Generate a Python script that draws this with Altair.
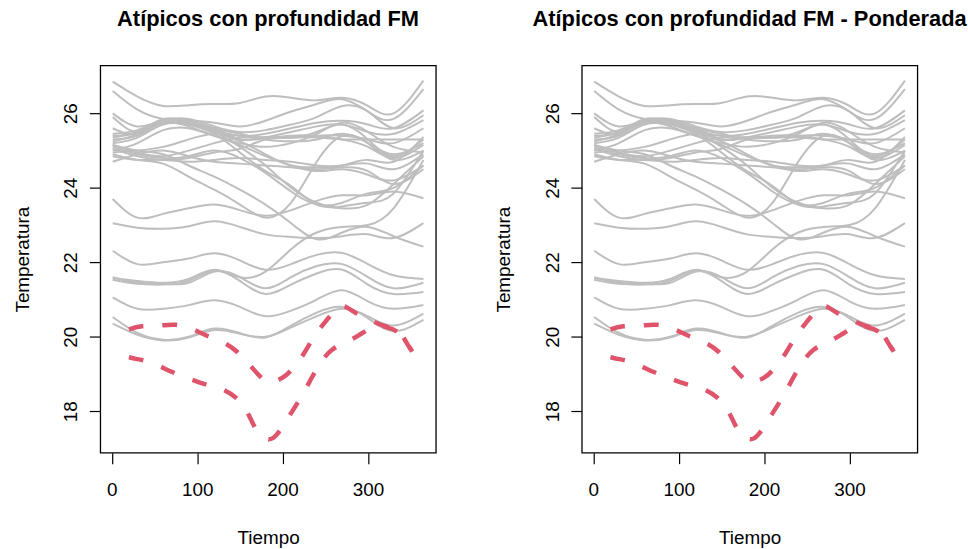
import altair as alt
import pandas as pd

# ---------------- data ----------------
tiempo_nodos = [1, 30, 60, 90, 120, 150, 180, 210, 240, 270, 300, 330, 365]

g01 = [26.85, 26.45, 26.20, 26.22, 26.25, 26.28, 26.45, 26.42, 26.35, 26.42, 26.20, 26.00, 26.88]
g02 = [26.60, 26.10, 25.85, 25.80, 25.75, 25.65, 25.80, 26.05, 26.25, 26.38, 26.05, 25.85, 26.65]
g03 = [26.00, 25.65, 25.80, 25.75, 25.55, 25.40, 25.45, 25.60, 25.75, 25.80, 25.70, 25.60, 26.08]
g04 = [25.90, 25.50, 25.75, 25.70, 25.60, 25.30, 25.35, 25.50, 25.65, 25.70, 25.50, 25.45, 25.82]
g05 = [25.60, 25.45, 25.80, 25.80, 25.55, 25.30, 25.35, 25.35, 25.40, 25.40, 25.30, 25.20, 25.60]
g06 = [25.40, 25.50, 25.85, 25.75, 25.50, 25.25, 24.90, 24.60, 24.55, 24.60, 24.75, 24.70, 25.37]
g07 = [25.30, 25.40, 25.75, 25.70, 25.45, 24.95, 24.45, 24.05, 23.55, 23.50, 23.60, 23.85, 25.00]
g08 = [25.20, 25.35, 25.70, 25.70, 25.50, 25.10, 24.60, 24.00, 23.60, 23.45, 23.55, 24.10, 24.85]
g09 = [25.15, 24.95, 24.85, 25.00, 25.20, 25.35, 25.35, 25.40, 25.40, 25.30, 25.10, 24.80, 25.15]
g10 = [25.05, 24.85, 24.75, 24.80, 24.95, 25.05, 25.30, 25.35, 25.50, 25.70, 25.30, 24.85, 25.30]
g11 = [24.95, 25.00, 25.10, 25.30, 25.45, 25.40, 25.35, 25.35, 25.35, 25.30, 25.30, 25.30, 25.30]
g12 = [24.85, 24.75, 24.75, 24.70, 24.75, 24.80, 24.75, 24.70, 24.60, 24.60, 24.65, 24.50, 24.90]
g13 = [24.70, 24.90, 25.00, 24.85, 24.70, 24.65, 24.60, 24.55, 24.50, 24.55, 24.45, 24.10, 24.50]
g14 = [25.10, 24.90, 24.80, 24.85, 25.00, 24.80, 24.40, 23.90, 23.55, 23.60, 23.85, 24.00, 24.60]
g15 = [25.25, 25.45, 25.80, 25.80, 25.60, 25.45, 25.30, 25.25, 25.30, 25.45, 25.20, 24.90, 25.20]
g16 = [25.35, 25.50, 25.75, 25.65, 25.40, 25.20, 25.10, 25.20, 25.45, 25.75, 25.50, 25.10, 24.95]
g17 = [25.15, 25.00, 24.90, 24.60, 24.30, 23.95, 23.55, 23.05, 22.62, 22.80, 22.95, 22.70, 22.42]
g18 = [24.90, 24.75, 24.65, 24.30, 23.95, 23.55, 23.20, 23.60, 24.70, 25.40, 25.20, 24.75, 25.00]
g19 = [23.70, 23.20, 23.30, 23.45, 23.55, 23.40, 23.25, 23.40, 23.65, 23.80, 23.80, 23.90, 23.72]
g20 = [23.05, 22.93, 22.90, 22.97, 23.10, 22.95, 22.75, 22.68, 22.65, 22.70, 22.75, 22.65, 23.05]
g21 = [21.58, 21.50, 21.45, 21.55, 21.80, 21.60, 21.75, 22.35, 22.80, 22.95, 23.00, 23.45, 24.75]
g22 = [22.31, 21.95, 22.00, 22.10, 22.24, 22.05, 21.80, 21.95, 22.20, 22.25, 21.95, 21.65, 21.55]
g23 = [21.60, 21.45, 21.42, 21.45, 21.75, 21.60, 21.30, 21.60, 21.90, 21.95, 21.60, 21.30, 21.45]
g24 = [21.53, 21.42, 21.40, 21.50, 21.78, 21.50, 21.15, 21.40, 21.70, 21.80, 21.40, 21.15, 21.20]
g25 = [21.06, 20.75, 20.75, 20.85, 20.98, 20.80, 20.55, 20.70, 21.00, 21.25, 20.95, 20.75, 20.85]
g26 = [20.53, 20.10, 19.92, 20.00, 20.22, 20.10, 19.98, 20.30, 20.65, 20.80, 20.50, 20.15, 20.45]
g27 = [20.35, 20.05, 19.90, 19.98, 20.18, 20.08, 20.00, 20.25, 20.55, 20.75, 20.55, 20.30, 20.62]
g28 = [25.00, 25.20, 25.55, 25.60, 25.40, 25.15, 24.85, 24.60, 24.45, 24.50, 24.35, 24.20, 24.60]
g29 = [25.45, 25.55, 25.80, 25.85, 25.65, 25.50, 25.55, 25.70, 25.90, 26.20, 26.05, 25.60, 25.95]

grises = [g01, g02, g03, g04, g05, g06, g07, g08, g09, g10, g11, g12, g13, g14, g15,
          g16, g17, g18, g19, g20, g21, g22, g23, g24, g25, g26, g27, g28, g29]

# atypical curves (red, dashed)
rojo1_t = [20, 35, 55, 75, 95, 110, 130, 147, 165, 178, 188, 200, 212, 225, 237, 250,
           262, 272, 285, 300, 318, 335, 345, 352]
rojo1_v = [20.20, 20.28, 20.30, 20.32, 20.20, 20.04, 19.85, 19.59, 19.15, 18.85, 18.80, 18.90,
           19.15, 19.55, 20.00, 20.40, 20.72, 20.82, 20.65, 20.48, 20.30, 20.15, 19.85, 19.60]
rojo2_t = [20, 30, 40, 55, 70, 90, 110, 128, 145, 158, 168, 178, 188, 199, 210, 222, 233,
           244, 258, 275, 290, 305, 318, 335, 345, 352]
rojo2_v = [19.45, 19.40, 19.35, 19.22, 19.06, 18.88, 18.72, 18.60, 18.37, 18.00, 17.55, 17.30,
           17.27, 17.55, 17.95, 18.39, 18.85, 19.28, 19.65, 19.86, 20.05, 20.25, 20.28, 20.12,
           19.85, 19.60]

x_ticks = [0, 100, 200, 300]
y_ticks = [18, 20, 22, 24, 26]
titulo_1 = "Atípicos con profundidad FM"
titulo_2 = "Atípicos con profundidad FM - Ponderada"

# ---------------- tables ----------------
filas = []
for i, serie in enumerate(grises):
    for t, v in zip(tiempo_nodos, serie):
        filas.append({"curva": f"g{i + 1:02d}", "tiempo": t, "temp": v})
gris_df = pd.DataFrame(filas)

filas = []
for nombre, ts, vs in [("r1", rojo1_t, rojo1_v), ("r2", rojo2_t, rojo2_v)]:
    for t, v in zip(ts, vs):
        filas.append({"curva": nombre, "tiempo": t, "temp": v})
rojo_df = pd.DataFrame(filas)

FONT = "Liberation Sans"

x_scale = alt.Scale(domain=[-13.56, 379.56], nice=False, zero=False)
y_scale = alt.Scale(domain=[16.885, 27.285], nice=False, zero=False)

x_axis = alt.Axis(values=x_ticks, title="Tiempo", grid=False, domain=False,
                  tickSize=11, tickColor="black", tickWidth=1.2,
                  labelFont=FONT, labelFontSize=19, labelColor="black", labelPadding=17,
                  titleFont=FONT, titleFontSize=19, titleFontWeight="normal",
                  titleColor="black", titleBaseline="alphabetic", titleY=91)
y_axis = alt.Axis(values=y_ticks, title="Temperatura", grid=False, domain=False,
                  tickSize=11, tickColor="black", tickWidth=1.2,
                  labelFont=FONT, labelFontSize=19, labelColor="black", labelPadding=12.5,
                  labelAngle=270, labelAlign="center", labelBaseline="alphabetic",
                  titleFont=FONT, titleFontSize=19, titleFontWeight="normal",
                  titleColor="black", titleBaseline="alphabetic", titleX=-72.4)


def panel(titulo):
    x = alt.X("tiempo:Q", scale=x_scale, axis=x_axis)
    y = alt.Y("temp:Q", scale=y_scale, axis=y_axis)
    gris = alt.Chart(gris_df).mark_line(
        color="#BEBEBE", strokeWidth=2, interpolate="natural"
    ).encode(x=x, y=y, detail="curva:N")
    rojo = alt.Chart(rojo_df).mark_line(
        color="#DF536B", strokeWidth=4.5, strokeDash=[15, 19], interpolate="natural"
    ).encode(x=x, y=y, detail="curva:N")
    return alt.layer(gris, rojo).properties(
        width=338, height=390,
        title=alt.TitleParams(text=titulo, font=FONT, fontSize=22, fontWeight="bold",
                              color="black", anchor="middle", frame="group",
                              baseline="alphabetic", offset=18),
    )


chart = alt.hconcat(panel(titulo_1), panel(titulo_2), spacing=57).properties(
    padding={"left": 12, "top": 5, "right": 0, "bottom": 0},
    background="white",
).configure_view(stroke="black", strokeWidth=1.3)

chart.save("out.html", embed_options={"renderer": "svg", "actions": False})
